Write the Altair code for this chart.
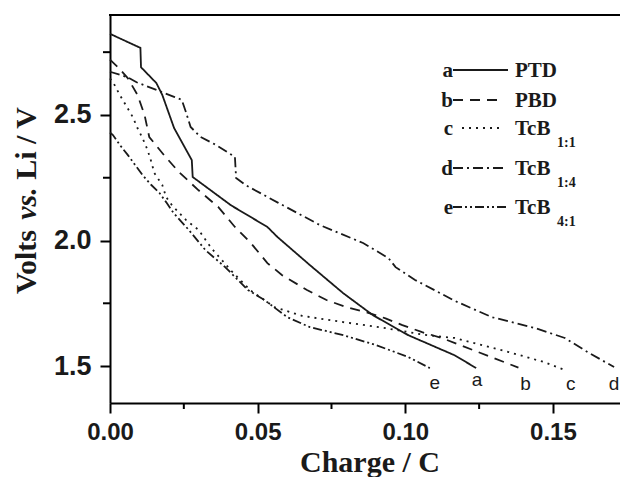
import altair as alt
import pandas as pd

# ---------------- data ----------------
a_x = [0, 0.0103, 0.0105, 0.0157, 0.0177, 0.0217, 0.0277, 0.028, 0.041, 0.0533, 0.0567,
       0.0677, 0.079, 0.089, 0.101, 0.1167, 0.124]
a_y = [2.823, 2.767, 2.69, 2.627, 2.58, 2.448, 2.32, 2.253, 2.14, 2.054, 2.014,
       1.902, 1.79, 1.703, 1.623, 1.543, 1.492]

b_x = [0, 0.0027, 0.006, 0.0093, 0.0117, 0.0133, 0.0183, 0.0233, 0.03, 0.0367, 0.0423,
       0.0477, 0.0533, 0.0583, 0.0667, 0.0733, 0.08, 0.0867, 0.0933, 0.099, 0.1057,
       0.1123, 0.1383]
b_y = [2.72, 2.69, 2.647, 2.58, 2.5, 2.412, 2.34, 2.273, 2.2, 2.133, 2.054,
       1.99, 1.91, 1.862, 1.803, 1.763, 1.735, 1.715, 1.69, 1.663, 1.635,
       1.612, 1.494]

c_x = [0, 0.001, 0.0033, 0.0057, 0.0077, 0.0093, 0.011, 0.0127, 0.014, 0.015, 0.0177,
       0.019, 0.021, 0.0257, 0.03, 0.0343, 0.041, 0.0477, 0.0557, 0.065, 0.079, 0.0933,
       0.1067, 0.1167, 0.135, 0.147, 0.154]
c_y = [2.645, 2.631, 2.58, 2.532, 2.492, 2.448, 2.408, 2.361, 2.313, 2.269, 2.221,
       2.173, 2.14, 2.082, 2.042, 1.97, 1.88, 1.80, 1.735, 1.70, 1.675, 1.651,
       1.624, 1.612, 1.556, 1.516, 1.484]

d_x = [0, 0.006, 0.009, 0.0157, 0.0217, 0.0243, 0.0257, 0.0273, 0.0307, 0.036, 0.0423,
       0.0427, 0.046, 0.057, 0.071, 0.0857, 0.0943, 0.0967, 0.1033, 0.1167, 0.1293,
       0.144, 0.154, 0.1617, 0.1707]
d_y = [2.672, 2.65, 2.63, 2.6, 2.572, 2.56, 2.512, 2.452, 2.412, 2.38, 2.333,
       2.249, 2.22, 2.15, 2.062, 1.99, 1.93, 1.894, 1.843, 1.76, 1.695,
       1.651, 1.612, 1.556, 1.496]

e_x = [0, 0.001, 0.0033, 0.006, 0.009, 0.011, 0.014, 0.0167, 0.019, 0.0215, 0.0267,
       0.0323, 0.039, 0.0467, 0.0523, 0.06, 0.0677, 0.079, 0.09, 0.101, 0.1083]
e_y = [2.43, 2.42, 2.381, 2.341, 2.293, 2.261, 2.221, 2.19, 2.153, 2.11, 2.042,
       1.962, 1.894, 1.803, 1.763, 1.695, 1.655, 1.623, 1.584, 1.536, 1.492]

end_letters = ["a", "b", "c", "d", "e"]
end_x = [0.1243, 0.1407, 0.156, 0.1707, 0.110]
end_y = [1.421, 1.405, 1.405, 1.405, 1.409]

legend_letters = ["a", "b", "c", "d", "e"]
legend_names = ["PTD", "PBD", "TcB", "TcB", "TcB"]
legend_subs = ["", "", "1:1", "1:4", "4:1"]

x_ticks = [0, 0.05, 0.10, 0.15]
x_minor = [0.025, 0.075, 0.125]
y_ticks = [1.5, 2.0, 2.5]
y_minor = [1.75, 2.25, 2.75]

x_title = "Charge / C"
y_title_parts = ["Volts", "vs.", "Li / V"]

# ---------------- layout ----------------
W, H = 510, 388
XMAX = 0.1727
YMIN, YMAX = 1.353, 2.898
SERIF = "Liberation Serif"
SANS = "Liberation Sans"
INK = "#1a1a1a"

xs = alt.Scale(domain=[0, XMAX], nice=False, zero=False)
ys = alt.Scale(domain=[YMIN, YMAX], nice=False, zero=False)

xax = alt.Axis(values=x_ticks, format=".2f", title="", tickSize=10, tickWidth=2,
               domainWidth=2, domainColor="black", tickColor="black",
               labelFont=SANS, labelFontWeight="bold", labelFontSize=24,
               labelColor=INK, labelPadding=7, labelFlush=False,
               labelOverlap=False, grid=False)
yax = alt.Axis(values=y_ticks, format=".1f", title="", tickSize=10, tickWidth=2,
               domainWidth=2, domainColor="black", tickColor="black",
               labelFont=SANS, labelFontWeight="bold", labelFontSize=27,
               labelColor=INK, labelPadding=9, labelFlush=False,
               labelOverlap=False, grid=False)

dashes = [[1, 0], [10, 7], [2, 5], [10, 4, 2, 4], [9, 3, 2, 3, 2, 3]]
series = [(a_x, a_y), (b_x, b_y), (c_x, c_y), (d_x, d_y), (e_x, e_y)]

layers = []
for n, ((xv, yv), dash) in enumerate(zip(series, dashes)):
    df = pd.DataFrame({"x": xv, "y": yv, "i": list(range(len(xv)))})
    if n == 0:
        ex = alt.X("x:Q", scale=xs, axis=xax)
        ey = alt.Y("y:Q", scale=ys, axis=yax)
    else:
        ex = alt.X("x:Q", scale=xs)
        ey = alt.Y("y:Q", scale=ys)
    layers.append(
        alt.Chart(df).mark_line(color=INK, strokeWidth=1.8, strokeDash=dash)
        .encode(x=ex, y=ey, order=alt.Order("i:Q"))
    )

# minor ticks
layers.append(
    alt.Chart(pd.DataFrame({"x": x_minor})).mark_rule(color="black", strokeWidth=2)
    .encode(x=alt.X("x:Q", scale=xs), y=alt.value(H), y2=alt.value(H + 6))
)
layers.append(
    alt.Chart(pd.DataFrame({"y": y_minor})).mark_rule(color="black", strokeWidth=2)
    .encode(y=alt.Y("y:Q", scale=ys), x=alt.value(-7), x2=alt.value(0))
)
# top frame line
layers.append(
    alt.Chart(pd.DataFrame({"k": [0]})).mark_rule(color="black", strokeWidth=2)
    .encode(x=alt.value(-1), x2=alt.value(W + 2), y=alt.value(0))
)

# end-of-curve letters
layers.append(
    alt.Chart(pd.DataFrame({"x": end_x, "y": end_y, "t": end_letters}))
    .mark_text(font=SANS, fontSize=19, color=INK, align="center", baseline="alphabetic")
    .encode(x=alt.X("x:Q", scale=xs), y=alt.Y("y:Q", scale=ys), text="t:N")
)

# legend (manual)
row_base = [62, 92, 120, 160, 199]  # baselines, plot-relative px
seg = [(343, 398), (343, 392), (352, 392), (343, 394), (343, 396)]
for k in range(5):
    yb = row_base[k]
    layers.append(
        alt.Chart(pd.DataFrame({"t": [legend_letters[k]]}))
        .mark_text(font=SERIF, fontWeight="bold", fontSize=21, color=INK,
                   align="right", baseline="alphabetic")
        .encode(x=alt.value(343), y=alt.value(yb), text="t:N")
    )
    layers.append(
        alt.Chart(pd.DataFrame({"k": [k]}))
        .mark_rule(color=INK, strokeWidth=1.8, strokeDash=dashes[k])
        .encode(x=alt.value(seg[k][0]), x2=alt.value(seg[k][1]), y=alt.value(yb - 7))
    )
    layers.append(
        alt.Chart(pd.DataFrame({"t": [legend_names[k]]}))
        .mark_text(font=SERIF, fontWeight="bold", fontSize=21, color=INK,
                   align="left", baseline="alphabetic")
        .encode(x=alt.value(405), y=alt.value(yb), text="t:N")
    )
    if legend_subs[k]:
        layers.append(
            alt.Chart(pd.DataFrame({"t": [legend_subs[k]]}))
            .mark_text(font=SERIF, fontWeight="bold", fontSize=14, color=INK,
                       align="left", baseline="alphabetic")
            .encode(x=alt.value(447), y=alt.value(yb + 12), text="t:N")
        )

# axis titles as text
layers.append(
    alt.Chart(pd.DataFrame({"t": [x_title]}))
    .mark_text(font=SERIF, fontWeight="bold", fontSize=30, color=INK,
               align="center", baseline="alphabetic")
    .encode(x=alt.value(260), y=alt.value(457), text="t:N")
)
FS = 30
Y0 = 279
y_starts = [Y0, Y0 - (2.222 + 0.25) * FS, Y0 - (2.222 + 0.25 + 1.083 + 0.25) * FS]
y_styles = ["normal", "italic", "normal"]
for txt, ystart, sty in zip(y_title_parts, y_starts, y_styles):
    layers.append(
        alt.Chart(pd.DataFrame({"t": [txt]}))
        .mark_text(font=SERIF, fontWeight="bold", fontStyle=sty, fontSize=FS, color=INK,
                   align="left", baseline="alphabetic", angle=270)
        .encode(x=alt.value(-74), y=alt.value(ystart), text="t:N")
    )

chart = (
    alt.layer(*layers)
    .properties(width=W, height=H,
                autosize=alt.AutoSizeParams(type="none"),
                padding={"left": 102, "top": 7, "right": 0, "bottom": 74})
    .configure_view(stroke="transparent")
    .configure(background="white")
)

chart.save("out.html", embed_options={"renderer": "svg", "actions": False})
